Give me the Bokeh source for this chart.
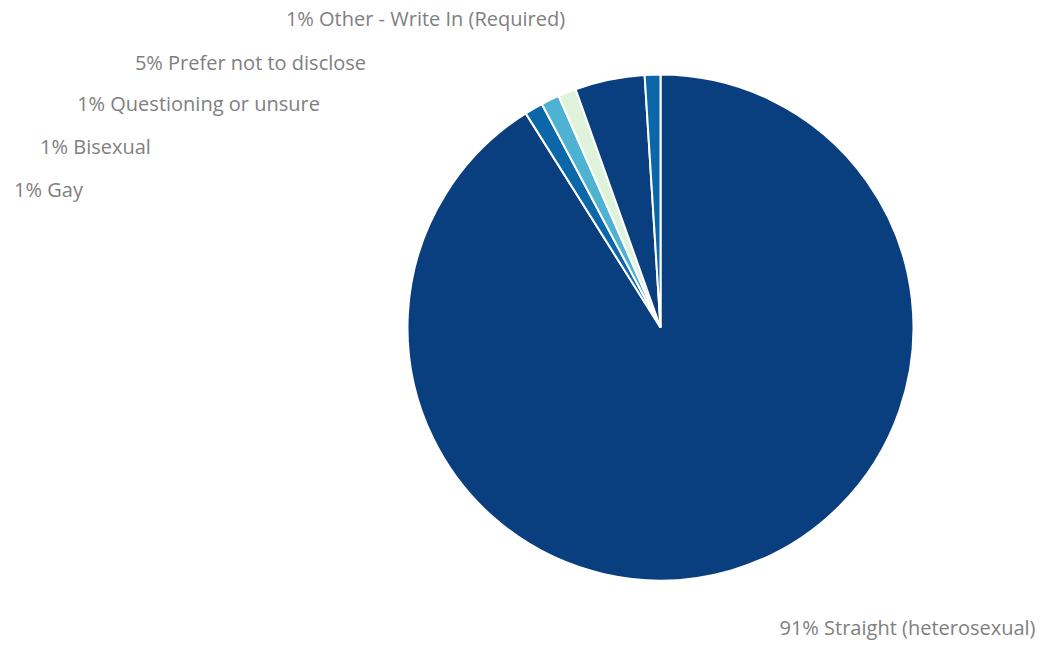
import numpy as np
from bokeh.plotting import figure
from bokeh.models import Range1d
from bokeh.core.properties import value
from bokeh.embed import file_html
from bokeh.resources import INLINE

# Data (clockwise from 12 o'clock)
categories = ["Straight (heterosexual)", "Gay", "Bisexual", "Questioning or unsure",
              "Prefer not to disclose", "Other - Write In (Required)"]
shares = [91.06, 1.17, 1.17, 1.15, 4.45, 1.00]
pct_labels = ["91%", "1%", "1%", "1%", "5%", "1%"]
colors = ["#0a3f7f", "#0b67aa", "#4eb3d3", "#dff2dc", "#0a3f7f", "#0b67aa"]

# Label anchor positions (picture pixels, centre of text)
label_x = [907, 48, 95, 198, 250, 425]
label_y = [627, 189, 146, 103, 62, 18]

W, H = 1041, 640
p = figure(width=W, height=H, output_backend="svg", toolbar_location=None,
           x_range=Range1d(0, W), y_range=Range1d(648 - H, 648),
           min_border=0, outline_line_color=None, background_fill_color="white")
p.axis.visible = False
p.grid.visible = False

cx, cy, r = 660, 648 - 327, 253
frac = np.array(shares) / sum(shares)
cum = np.concatenate([[0], np.cumsum(frac)])
start = np.pi / 2 - cum[1:] * 2 * np.pi
end = np.pi / 2 - cum[:-1] * 2 * np.pi

p.wedge(x=[cx] * len(shares), y=[cy] * len(shares), radius=r,
        start_angle=list(start), end_angle=list(end), direction="anticlock",
        fill_color=colors, line_color="white", line_width=2)

texts = [f"{pl} {c}" for pl, c in zip(pct_labels, categories)]
p.text(x=label_x, y=[648 - yy for yy in label_y], text=texts,
       text_align="center", text_baseline="middle",
       text_font=value("Open Sans"), text_font_size="20px", text_color="#808080")

open("out.html", "w").write(file_html(p, INLINE))
